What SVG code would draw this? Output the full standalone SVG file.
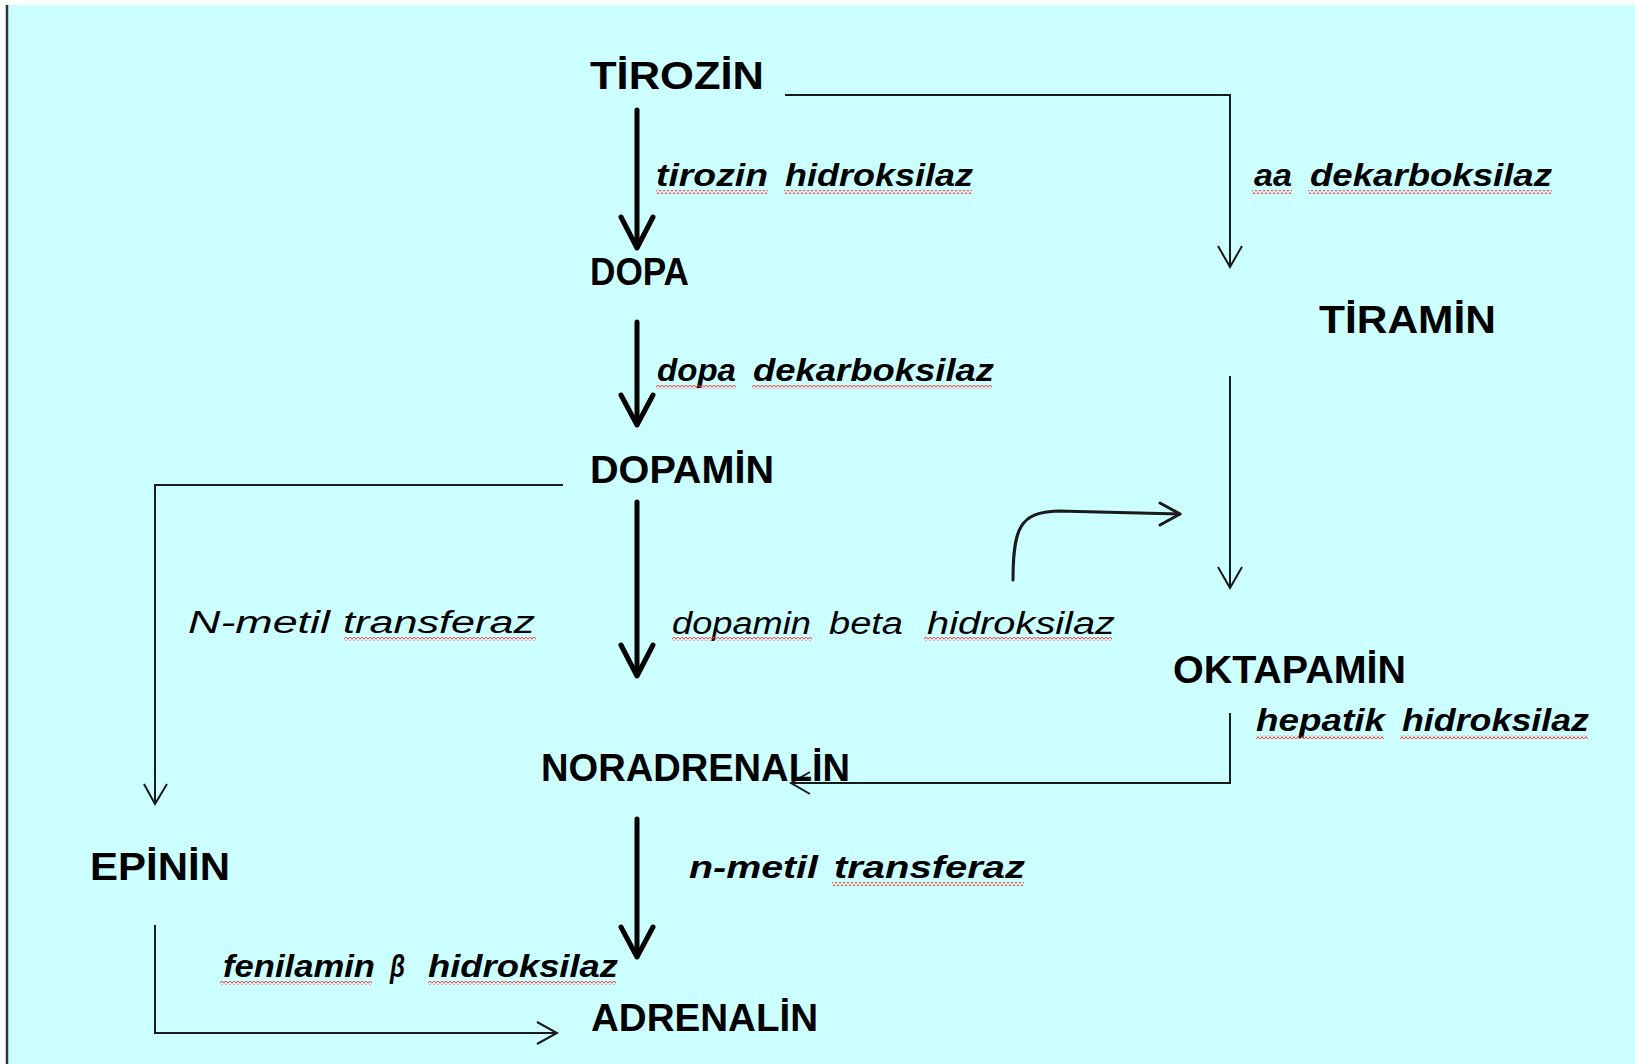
<svg xmlns="http://www.w3.org/2000/svg" width="1635" height="1064" viewBox="0 0 1635 1064">
<defs>
<style>
.node{font-family:"Liberation Sans","DejaVu Sans",Arial,sans-serif;font-weight:bold;font-size:38px;fill:#000}
.enz{font-family:"Liberation Sans","DejaVu Sans",Arial,sans-serif;font-style:italic;font-weight:bold;font-size:31px;fill:#000}
.enzl{font-weight:normal}
.thick{fill:none;stroke:#000;stroke-width:5;stroke-linecap:round;stroke-linejoin:round}
.thin{fill:none;stroke:#1a1a1a;stroke-width:2;stroke-linejoin:miter}
.curve{fill:none;stroke:#1a1a1a;stroke-width:3;stroke-linecap:round;stroke-linejoin:round}
.sq{fill:url(#squig)}
</style>
<pattern id="squig" patternUnits="userSpaceOnUse" x="0" y="0" width="4" height="4">
<path d="M0,3.5 L2,0.5 L4,3.5" fill="none" stroke="#ff3b3b" stroke-width="1"/>
</pattern>
</defs>
<rect x="0" y="0" width="1635" height="1064" fill="#ffffff"/>
<rect x="6" y="5" width="1629" height="1059" fill="#ccffff"/>
<line x1="7" y1="5" x2="7" y2="1064" stroke="#333333" stroke-width="2.5"/>

<g id="connectors">
<polyline class="thick" points="637,110 637,246"/>
<polyline class="thick" points="621,217 637,248 653,217"/>
<polyline class="thick" points="637,322 637,423"/>
<polyline class="thick" points="621,395 637,425 653,395"/>
<polyline class="thick" points="637,502 637,674"/>
<polyline class="thick" points="621,645 637,676 653,645"/>
<polyline class="thick" points="637,819 637,955"/>
<polyline class="thick" points="621,927 637,957 653,927"/>
<polyline class="thin" points="785,95 1230,95 1230,267"/>
<polyline class="thin" points="1218,246 1230,267 1242,246"/>
<polyline class="thin" points="1230,376 1230,588"/>
<polyline class="thin" points="1218,567 1230,588 1242,567"/>
<polyline class="thin" points="1230,713 1230,783 791,783"/>
<polyline class="thin" points="810,772 791,783 810,794"/>
<polyline class="thin" points="563,485 155,485 155,804"/>
<polyline class="thin" points="144,784 155,804 167,784"/>
<polyline class="thin" points="155,925 155,1033 557,1033"/>
<polyline class="thin" points="537,1022 557,1033 537,1044"/>
<path class="curve" d="M1013,580 C1013,528 1020,512 1058,511 L1180,514"/>
<polyline class="curve" points="1160,503 1180,514 1160,525"/>
</g>

<g id="n-tirozin"><text class="node" x="590" y="89" textLength="174" lengthAdjust="spacingAndGlyphs">TİROZİN</text></g>
<g id="n-dopa"><text class="node" x="590" y="285" textLength="99" lengthAdjust="spacingAndGlyphs">DOPA</text></g>
<g id="n-dopamin"><text class="node" x="590" y="483" textLength="184" lengthAdjust="spacingAndGlyphs">DOPAMİN</text></g>
<g id="n-tiramin"><text class="node" x="1319" y="333" textLength="177" lengthAdjust="spacingAndGlyphs">TİRAMİN</text></g>
<g id="n-oktapamin"><text class="node" x="1173" y="683" textLength="233" lengthAdjust="spacingAndGlyphs">OKTAPAMİN</text></g>
<g id="n-noradrenalin"><text class="node" x="541" y="781" textLength="309" lengthAdjust="spacingAndGlyphs">NORADRENALİN</text></g>
<g id="n-epinin"><text class="node" x="90" y="880" textLength="140" lengthAdjust="spacingAndGlyphs">EPİNİN</text></g>
<g id="n-adrenalin"><text class="node" x="591" y="1031" textLength="227" lengthAdjust="spacingAndGlyphs">ADRENALİN</text></g>

<g id="labels">
<text class="enz" y="186"><tspan x="656" textLength="112" lengthAdjust="spacingAndGlyphs">tirozin</tspan> <tspan x="785" textLength="188" lengthAdjust="spacingAndGlyphs">hidroksilaz</tspan></text>
<text class="enz" y="186"><tspan x="1254" textLength="38" lengthAdjust="spacingAndGlyphs">aa</tspan> <tspan x="1310" textLength="242" lengthAdjust="spacingAndGlyphs">dekarboksilaz</tspan></text>
<text class="enz" y="381"><tspan x="657" textLength="79" lengthAdjust="spacingAndGlyphs">dopa</tspan> <tspan x="753" textLength="241" lengthAdjust="spacingAndGlyphs">dekarboksilaz</tspan></text>
<text class="enz enzl" y="633"><tspan x="188" textLength="142" lengthAdjust="spacingAndGlyphs">N-metil</tspan> <tspan x="343" textLength="192" lengthAdjust="spacingAndGlyphs">transferaz</tspan></text>
<text class="enz enzl" y="634"><tspan x="672" textLength="139" lengthAdjust="spacingAndGlyphs">dopamin</tspan> <tspan x="829" textLength="74" lengthAdjust="spacingAndGlyphs">beta</tspan> <tspan x="927" textLength="188" lengthAdjust="spacingAndGlyphs">hidroksilaz</tspan></text>
<text class="enz" y="731"><tspan x="1256" textLength="129" lengthAdjust="spacingAndGlyphs">hepatik</tspan> <tspan x="1402" textLength="187" lengthAdjust="spacingAndGlyphs">hidroksilaz</tspan></text>
<text class="enz" y="878"><tspan x="689" textLength="129" lengthAdjust="spacingAndGlyphs">n-metil</tspan> <tspan x="834" textLength="191" lengthAdjust="spacingAndGlyphs">transferaz</tspan></text>
<text class="enz" y="977"><tspan x="223" textLength="152" lengthAdjust="spacingAndGlyphs">fenilamin</tspan> <tspan x="390" textLength="15" lengthAdjust="spacingAndGlyphs">β</tspan> <tspan x="428" textLength="190" lengthAdjust="spacingAndGlyphs">hidroksilaz</tspan></text>
</g>

<g id="spellcheck">
<rect class="sq" x="656" y="190" width="112" height="4"/>
<rect class="sq" x="784" y="190" width="188" height="4"/>
<rect class="sq" x="1252" y="190" width="40" height="4"/>
<rect class="sq" x="1308" y="190" width="244" height="4"/>
<rect class="sq" x="656" y="385" width="80" height="4"/>
<rect class="sq" x="752" y="385" width="240" height="4"/>
<rect class="sq" x="344" y="637" width="192" height="4"/>
<rect class="sq" x="672" y="637" width="140" height="4"/>
<rect class="sq" x="924" y="637" width="188" height="4"/>
<rect class="sq" x="1256" y="735" width="128" height="4"/>
<rect class="sq" x="1400" y="735" width="188" height="4"/>
<rect class="sq" x="832" y="882" width="192" height="4"/>
<rect class="sq" x="220" y="981" width="152" height="4"/>
<rect class="sq" x="428" y="981" width="188" height="4"/>
</g>
</svg>
